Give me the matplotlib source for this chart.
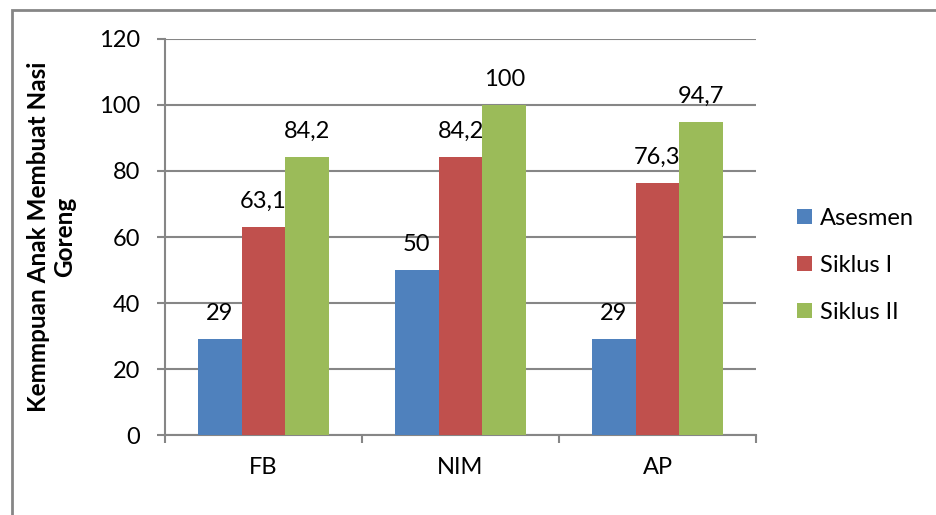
import numpy as np
import matplotlib.pyplot as plt
from matplotlib.patches import Rectangle

plt.rcParams['font.family'] = ['Lato', 'DejaVu Sans']

# Skor kemampuan per anak untuk tiap tahap
categories = ['FB', 'NIM', 'AP']
series_names = ['Asesmen', 'Siklus I', 'Siklus II']
asesmen = [29, 50, 29]
siklus_1 = [63.1, 84.2, 76.3]
siklus_2 = [84.2, 100, 94.7]
colors = ['#4F81BD', '#C0504D', '#9BBB59']
y_ticks = [0, 20, 40, 60, 80, 100, 120]

grid_color = '#868686'

fig = plt.figure(figsize=(9.36, 5.15), dpi=100)
ax = fig.add_axes([0.1763, 0.1553, 0.6314, 0.769])

x = np.arange(len(categories))
width = 0.222
for i, (vals, name, col) in enumerate(zip([asesmen, siklus_1, siklus_2], series_names, colors)):
    pos = x + (i - 1) * width
    bars = ax.bar(pos, vals, width, color=col, label=name, zorder=3)
    for b, v in zip(bars, vals):
        txt = f'{v:g}'.replace('.', ',')
        ax.annotate(txt, (b.get_x() + b.get_width() / 2, v),
                    xytext=(0, 11), textcoords='offset points',
                    ha='center', va='bottom', fontsize=17, color='black')

ax.set_xlim(-0.5, len(categories) - 0.5)
ax.set_ylim(0, 120)
ax.set_yticks(y_ticks)
ax.tick_params(axis='y', labelsize=17, length=6, width=1.5, color=grid_color, pad=12)
ax.yaxis.grid(True, color=grid_color, linewidth=1.5, zorder=0)

ax.set_xticks(x)
ax.set_xticklabels(categories)
ax.tick_params(axis='x', which='major', length=0, labelsize=17, pad=16)
ax.set_xticks(np.arange(len(categories) + 1) - 0.5, minor=True)
ax.tick_params(axis='x', which='minor', length=6, width=1.5, color=grid_color)

for side in ['top', 'right']:
    ax.spines[side].set_visible(False)
for side in ['left', 'bottom']:
    ax.spines[side].set_color(grid_color)
    ax.spines[side].set_linewidth(1.5)

fig.text(0.055, 0.54, 'Kemmpuan Anak Membuat Nasi\nGoreng', rotation=90,
         ha='center', va='center', fontsize=17.5, fontweight='bold',
         multialignment='center', linespacing=1.15)

ax.legend(loc='center left', bbox_to_anchor=(0.852, 0.485),
          bbox_transform=fig.transFigure, frameon=False, fontsize=17,
          handlelength=0.6, handleheight=0.6, handletextpad=0.35,
          labelspacing=1.1, borderaxespad=0, borderpad=0)

# outer chart frame
fig.patches.append(Rectangle((12 / 936, -0.05), 1.0, 1 - 10 / 515 + 0.05,
                             transform=fig.transFigure, fill=False,
                             edgecolor=grid_color, linewidth=2))

fig.savefig('out.png', dpi=100)
